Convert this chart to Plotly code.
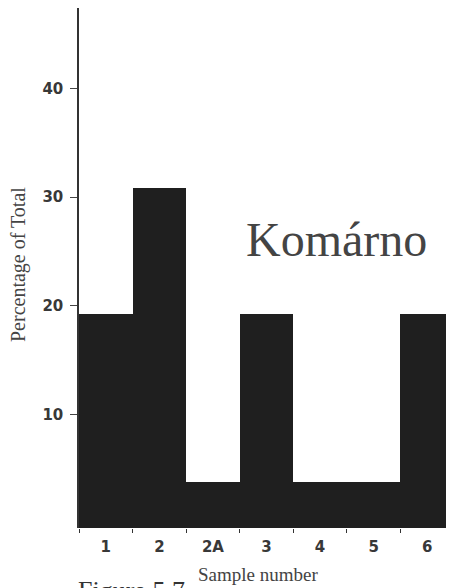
import plotly.graph_objects as go

samples = ["1", "2", "2A", "3", "4", "5", "6"]
percent = [19.2, 30.8, 3.8, 19.2, 3.8, 3.8, 19.2]
y_ticks = [10, 20, 30, 40]

Y_MIN, Y_MAX = -0.46, 47.4

# page is rendered with an 8px body margin, so the figure is made 8px smaller
OFF = 8
W, H = 454 - OFF, 588 - OFF
ML, MR, MT, MB = 79 - OFF, 0, 8 - OFF, 60

TICKFONT = dict(family="DejaVu Sans, Verdana", size=15, color="#383838", weight="bold")

fig = go.Figure(go.Bar(
    x=samples, y=[v - Y_MIN for v in percent], base=Y_MIN,
    marker=dict(color="#1f1f1f", line=dict(width=0)),
    hovertext=[f"{v}%" for v in percent],
))

fig.update_layout(
    width=W, height=H,
    margin=dict(l=ML, r=MR, t=MT, b=MB, pad=0),
    paper_bgcolor="white", plot_bgcolor="white",
    bargap=0, showlegend=False,
    xaxis=dict(
        type="category", tickson="boundaries", ticks="outside", ticklen=4,
        tickcolor="#333", tickwidth=1, showline=False, showgrid=False, zeroline=False,
        tickfont=TICKFONT, ticklabelstandoff=8,
    ),
    yaxis=dict(
        range=[Y_MIN, Y_MAX], tickvals=y_ticks, ticks="outside", ticklen=7,
        tickcolor="#444", showline=True, linecolor="#333", linewidth=1.5,
        showgrid=False, zeroline=False,
        tickfont=TICKFONT, ticklabelstandoff=4,
    ),
)

pw, ph = W - ML - MR, H - MT - MB


def page_to_paper(px, py):
    fx, fy = px - OFF, py - OFF
    return (fx - ML) / pw, (H - MB - fy) / ph


labels = [
    ("Komárno", 336, 239, 48, 0, "#444"),
    ("Percentage of Total", 18, 265, 20, -90, "#444"),
    ("Sample number", 258, 574, 19, 0, "#444"),
    ("Figure 5.7", 131, 590, 26, 0, "#333"),
]
for text, px, py, size, ang, col in labels:
    x, y = page_to_paper(px, py)
    fig.add_annotation(
        text=text, x=x, y=y, xref="paper", yref="paper", showarrow=False,
        xanchor="center", yanchor="middle", textangle=ang,
        font=dict(family="Liberation Serif, Times New Roman", size=size, color=col),
    )

fig.write_html("out.html")
